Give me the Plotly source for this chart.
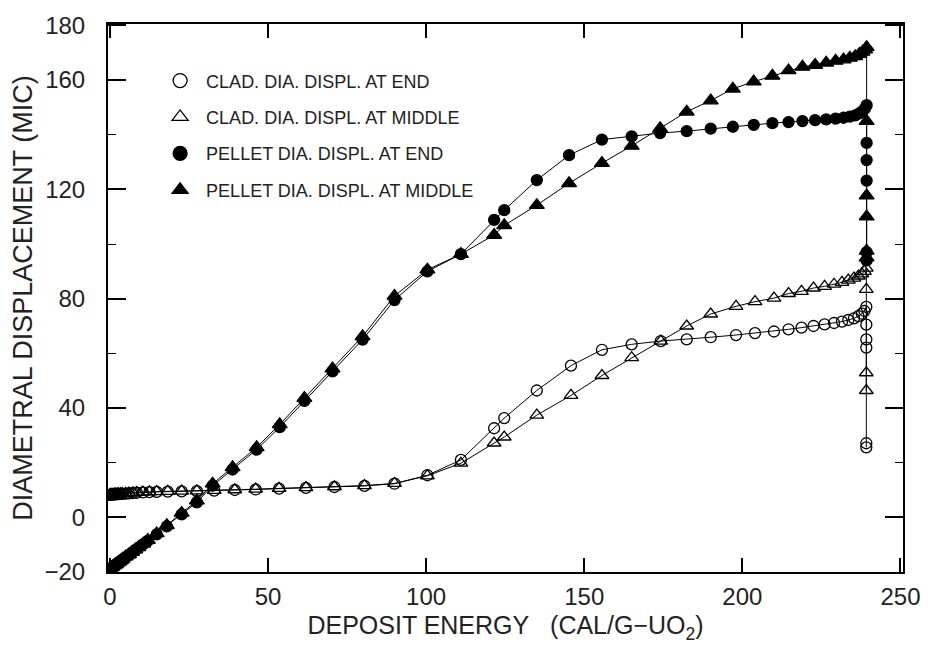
import plotly.graph_objects as go

# ---------------- data ----------------
pellet_x = [0, 0.4, 0.8, 1.2, 1.6, 2, 2.5, 3, 3.5, 4, 5, 6, 7, 8, 9, 10.5, 12, 14.8, 18,
            22.7, 27.5, 32.5, 38.8, 46.4, 53.7, 61.5, 70.4, 79.9, 90, 100.4, 111, 121.5,
            124.7, 135, 145.2, 155.6, 165, 174, 182.4, 190, 197, 203.6, 209.5, 214.6, 219,
            223, 226.5, 229.5, 232, 234, 235.7, 237, 238, 238.8, 239.3,
            239.3, 239.3, 239.3, 239.3, 239.3]
pellet_end_y = [-19, -18.6, -18.3, -17.9, -17.6, -17.2, -16.8, -16.4, -15.9, -15.5, -14.6,
                -13.8, -12.9, -12, -11.2, -9.9, -8.6, -6.2, -3.3, 1.1, 5.5, 11.6, 17.5, 24.8,
                33, 42.6, 53.4, 65, 79.5, 90, 96.3, 108.8, 112.4, 123.4, 132.5, 138.2, 139.4,
                140.6, 141.3, 142.2, 142.9, 143.6, 144.2, 144.6, 145, 145.3, 145.6, 145.9,
                146.2, 146.6, 147.1, 147.8, 148.6, 149.6, 150.8,
                137, 130.7, 123.2, 97, 94]
pellet_mid_y = [-18.8, -18.4, -18.1, -17.7, -17.4, -17.0, -16.6, -16.2, -15.7, -15.3, -14.4,
                -13.6, -12.7, -11.8, -11.0, -9.7, -8.3, -5.9, -2.9, 1.6, 6.1, 12.3, 18.3, 25.6,
                34, 43.6, 54.4, 66.2, 81, 90.6, 96.3, 103.3, 106.8, 114.2, 122.2, 129.6, 135.9,
                142.3, 148.4, 152.5, 156.8, 159.4, 161.5, 163.5, 164.8, 165.5, 166.3, 167.0,
                167.5, 168.1, 168.7, 169.5, 170.3, 171.1, 172,
                145, 117.7, 110, 97.5, 95]

clad_x = [0, 0.3, 0.6, 1, 1.4, 1.8, 2.3, 2.8, 3.4, 4, 5, 6, 7.3, 8.5, 10.4, 12.5, 14.8, 18.3,
          22.7, 27.5, 33, 39.5, 46.1, 53.5, 62, 71, 80.5, 90, 100.4, 111, 121.5, 124.7, 135,
          145.8, 155.6, 165, 174.2, 182.4, 190, 198, 204, 210, 214.6, 218.7, 222.5, 226, 229,
          231.5, 233.5, 235.3, 236.7, 237.8, 238.6, 239.2]
clad_end_y = [8.2, 8.2, 8.3, 8.3, 8.4, 8.4, 8.5, 8.5, 8.6, 8.6, 8.7, 8.8, 8.9, 9.0, 9.1, 9.2,
              9.3, 9.4, 9.5, 9.6, 9.8, 10.0, 10.2, 10.5, 10.8, 11.1, 11.5, 12.3, 15.4, 21.0,
              32.6, 36.3, 46.4, 55.5, 61.3, 63.3, 64.5, 65.1, 65.9, 66.7, 67.4, 68.0, 68.8,
              69.4, 70.0, 70.6, 71.1, 71.6, 72.2, 72.8, 73.6, 74.5, 75.5, 77.0]
clad_end_drop_y = [70.5, 65.1, 62.1, 27.1, 25.6]
clad_mid_y = [8.3, 8.3, 8.4, 8.4, 8.5, 8.5, 8.6, 8.6, 8.7, 8.7, 8.8, 8.9, 9.0, 9.1, 9.2, 9.3,
              9.4, 9.5, 9.6, 9.7, 9.9, 10.1, 10.3, 10.6, 10.9, 11.2, 11.6, 12.4, 15.2, 19.8,
              27.2, 29.4, 37.4, 44.6, 51.9, 58.4, 64.5, 70.0, 74.4, 77.2, 78.9, 80.2, 81.9,
              82.7, 83.9, 84.5, 85.3, 86.0, 86.8, 87.5, 88.3, 89.1, 90.0, 91.2]
clad_mid_drop_y = [83.4, 52.9, 46.4]

legend_names = ["CLAD. DIA. DISPL. AT END", "CLAD. DIA. DISPL. AT MIDDLE",
                "PELLET DIA. DISPL. AT END", "PELLET DIA. DISPL. AT MIDDLE"]

y_tickvals = [-20, 0, 40, 80, 120, 160, 180]
y_ticktext = ["\u221220", "0", "40", "80", "120", "160", "180"]
y_minorvals = [20, 60, 100, 140]
x_tickvals = [0, 50, 100, 150, 200, 250]

# ---------------- figure ----------------
fig = go.Figure()
line = dict(color="black", width=1)

drop_x_end = clad_x[-1:] * len(clad_end_drop_y)
drop_x_mid = clad_x[-1:] * len(clad_mid_drop_y)

series = [
    (clad_x + drop_x_end, clad_end_y + clad_end_drop_y, "circle-open", 11),
    (clad_x + drop_x_mid, clad_mid_y + clad_mid_drop_y, "triangle-up-open", 12),
    (pellet_x, pellet_end_y, "circle", 11),
    (pellet_x, pellet_mid_y, "triangle-up", 13),
]
for xs, ys, sym, sz in series:
    fig.add_trace(go.Scatter(
        x=xs, y=ys, mode="lines+markers", showlegend=False, line=line,
        marker=dict(symbol=sym, size=sz, color="black",
                    line=dict(color="black", width=1.3))))

# legend-only entries (marker only)
for i, (name, s) in enumerate(zip(legend_names, series)):
    fig.add_trace(go.Scatter(
        x=[None], y=[None], mode="markers", name=name, legendgroup=str(i),
        marker=dict(symbol=s[2], size=14, color="black",
                    line=dict(color="black", width=1.3))))

axis_font = dict(family="Liberation Sans", size=24, color="#222")

fig.update_layout(
    width=932, height=652,
    margin=dict(l=108, r=27, t=23, b=80),
    paper_bgcolor="white", plot_bgcolor="white",
    showlegend=True,
    legend=dict(x=0.058, y=0.93, xanchor="left", yanchor="top",
                bgcolor="rgba(0,0,0,0)", tracegroupgap=10, itemwidth=42,
                font=dict(family="Liberation Sans", size=18, color="#222")),
    xaxis=dict(range=[-0.6, 250.8], tickvals=x_tickvals, ticks="inside", ticklen=14,
               tickwidth=1.5, tickcolor="black", showline=True, linecolor="black",
               linewidth=2, mirror="allticks", showgrid=False, zeroline=False,
               tickfont=axis_font, ticklabelstandoff=2,
               title=dict(text="DEPOSIT ENERGY\u00a0\u00a0\u00a0(CAL/G\u2212UO<sub>2</sub>)",
                          font=dict(family="Liberation Sans", size=25, color="#222"),
                          standoff=8)),
    yaxis=dict(range=[-20, 180.5], tickvals=y_tickvals, ticktext=y_ticktext,
               ticks="inside", ticklen=18, tickwidth=1.5, tickcolor="black",
               minor=dict(tickvals=y_minorvals, ticks="inside", ticklen=8,
                          tickwidth=1.2, tickcolor="black"),
               showline=True, linecolor="black", linewidth=2, mirror="allticks",
               showgrid=False, zeroline=False, tickfont=axis_font, ticklabelstandoff=16,
               title=dict(text="DIAMETRAL DISPLACEMENT (MIC)",
                          font=dict(family="Liberation Sans", size=27, color="#222"),
                          standoff=4)),
)

fig.write_html("out.html")
